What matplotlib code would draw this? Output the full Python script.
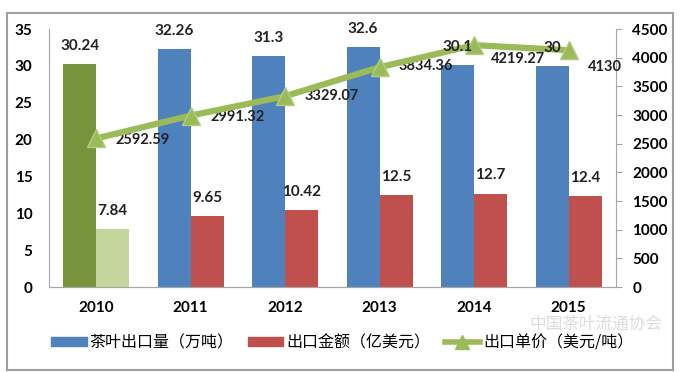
import matplotlib
matplotlib.use("Agg")
import matplotlib.pyplot as plt
from matplotlib.patches import Patch, Rectangle
from matplotlib.lines import Line2D
import numpy as np

plt.rcParams['font.family'] = ['Lato', 'Noto Sans CJK SC', 'DejaVu Sans']

years = ['2010', '2011', '2012', '2013', '2014', '2015']
volume = [30.24, 32.26, 31.3, 32.6, 30.1, 30]          # 万吨
value = [7.84, 9.65, 10.42, 12.5, 12.7, 12.4]           # 亿美元
unit_price = [2592.59, 2991.32, 3329.07, 3834.36, 4219.27, 4130]  # 美元/吨
price_labels = ['2592.59', '2991.32', '3329.07', '3834.36', '4219.27', '4130']

legend_names = ['茶叶出口量（万吨）', '出口金额（亿美元）', '出口单价（美元/吨）']

blue = '#4F81BD'
red = '#C0504D'
green = '#9BBB59'
vol_colors = ['#77933C'] + [blue] * 5
val_colors = ['#C3D69B'] + [red] * 5
# label offsets for the price line (points)
lbl_off = [(14, -1), (14, -1), (14, 0), (14, 1), (12, -10), (14, -12)]

fig = plt.figure(figsize=(6.85, 3.72), dpi=100)
ax = fig.add_axes([0.0715, 0.228, 0.8275, 0.694])
ax2 = ax.twinx()

x = np.arange(len(years))
w = 0.35
b1 = ax.bar(x - w / 2, volume, w, color=vol_colors, zorder=2)
b2 = ax.bar(x + w / 2, value, w, color=val_colors, zorder=2)

ax2.plot(x, unit_price, color=green, lw=4.5, marker='^', markersize=13,
         markerfacecolor=green, markeredgecolor='#B5CC80', zorder=5)
for xi, p, s, off in zip(x, unit_price, price_labels, lbl_off):
    ax2.annotate(s, (xi, p), xytext=off, textcoords='offset points',
                 ha='left', va='center', fontsize=10.5, fontweight='bold', color='#222222')

# bar labels drawn on the twin axes so they sit above the line
for bars, vals in ((b1, volume), (b2, value)):
    for rect, v in zip(bars, vals):
        ax2.annotate(f'{v:g}', (rect.get_x() + rect.get_width() / 2, v), xycoords=ax.transData,
                     xytext=(0, 8), textcoords='offset points', ha='center', va='bottom',
                     fontsize=11, fontweight='bold', color='#222222', zorder=6)

ax.set_xlim(-0.5, len(years) - 0.5)
ax.set_ylim(0, 35)
ax.set_yticks(range(0, 36, 5))
ax2.set_ylim(0, 4500)
ax2.set_yticks(range(0, 4501, 500))
ax.set_xticks(x)
ax.set_xticklabels(years)

for a in (ax, ax2):
    for s in a.spines.values():
        s.set_color('#A6A6A6')
    a.spines['top'].set_visible(False)
    for lab in a.get_yticklabels() + a.get_xticklabels():
        lab.set_fontweight('bold')
        lab.set_fontsize(11)
ax2.spines['left'].set_visible(False)
ax.spines['right'].set_visible(False)
ax.tick_params(axis='y', length=0, pad=12)
ax.tick_params(axis='x', length=0, pad=10)
ax2.tick_params(axis='y', length=4, color='#A6A6A6', pad=8)

handles = [Patch(color=blue), Patch(color=red),
           Line2D([], [], color=green, lw=4, marker='^', markersize=10)]
fig.legend(handles, legend_names, loc='center', bbox_to_anchor=(0.5, 0.078), ncol=3,
           frameon=False, handlelength=2.2, handleheight=0.5, columnspacing=0.9,
           handletextpad=0.2, prop={'family': ['Noto Sans CJK SC'], 'size': 11.5})

# watermark
fig.text(0.87, 0.128, '中国茶叶流通协会', ha='center', va='center', fontsize=12,
         color='#DCDCDC', family=['Noto Sans CJK SC'], zorder=0)

fig.patches.append(Rectangle((0.010, 0.005), 0.973, 0.96, transform=fig.transFigure,
                             fill=False, edgecolor='#A0A0A0', lw=1.5))

fig.savefig('out.png', dpi=100)
